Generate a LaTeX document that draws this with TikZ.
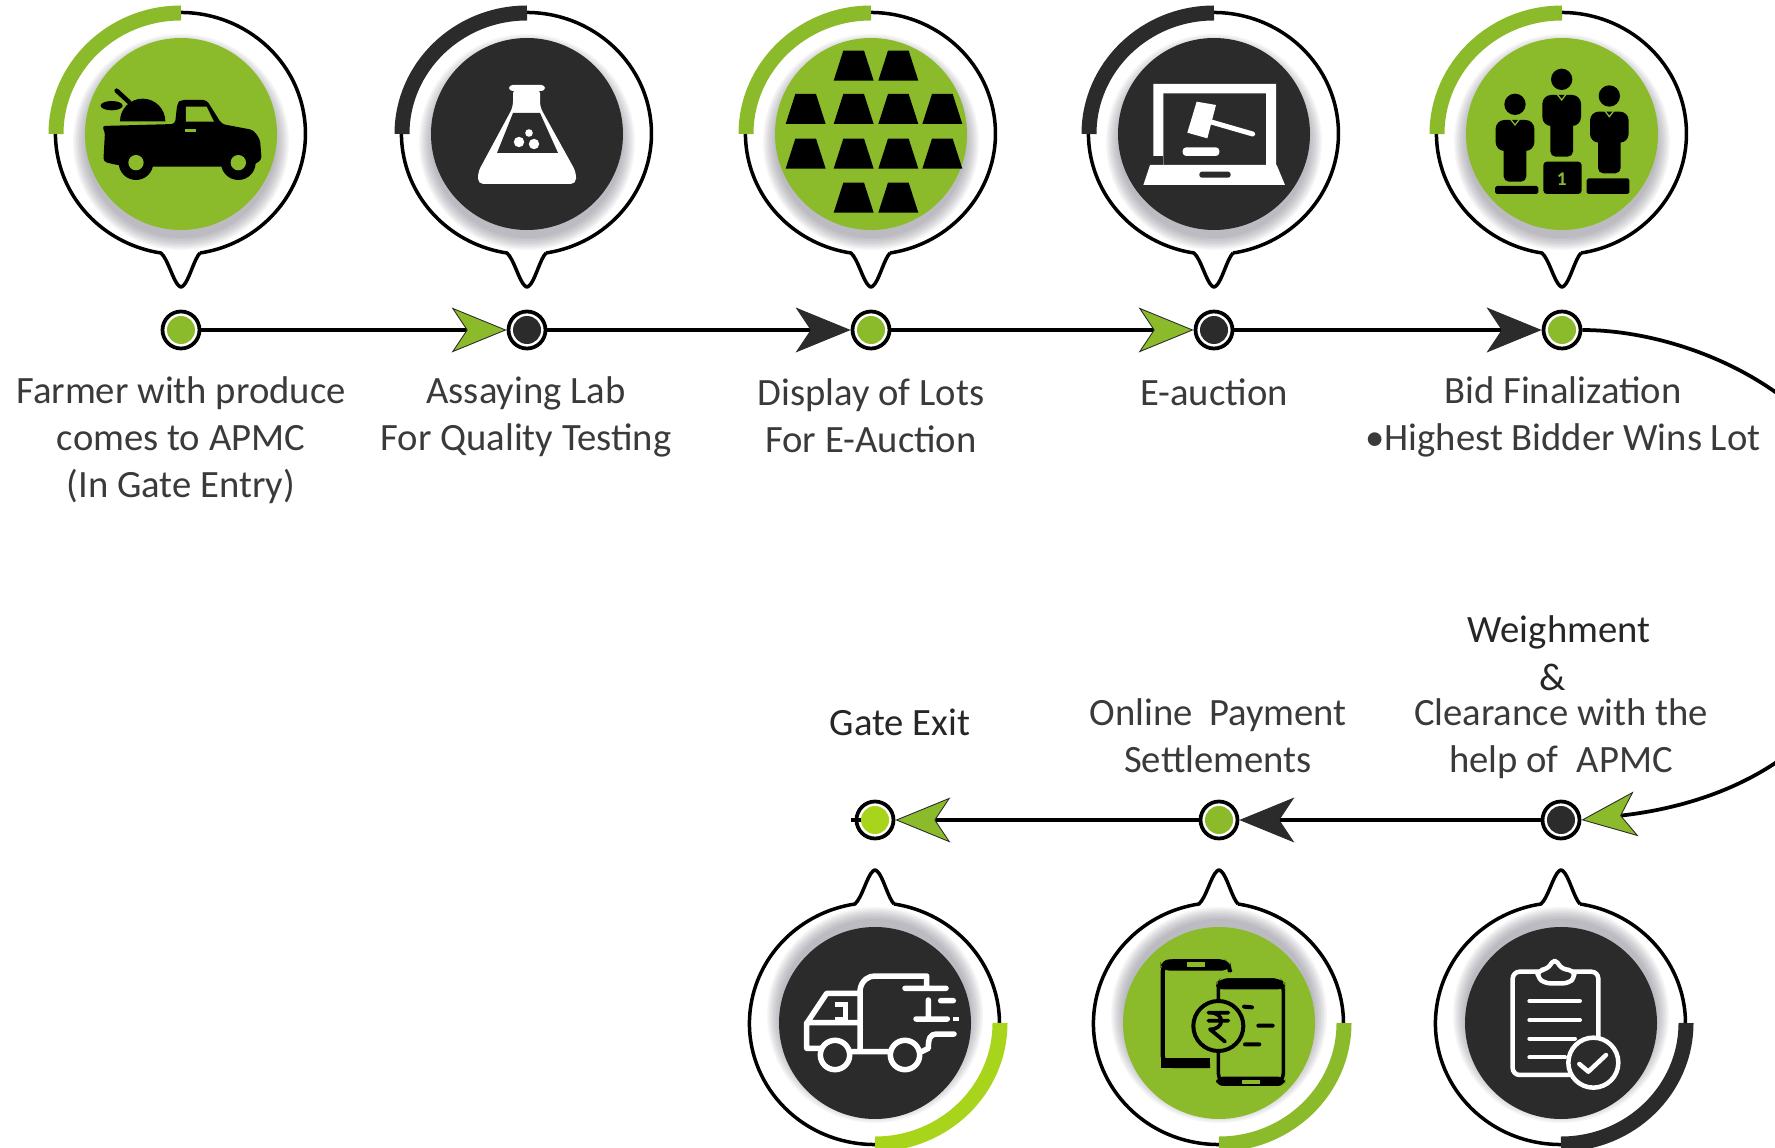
\documentclass[tikz,border=0pt]{standalone}
\usepackage{fontspec}
\setmainfont{Carlito}
\usetikzlibrary{arrows.meta}
\definecolor{agreen}{HTML}{8BBB2A}
\definecolor{alime}{HTML}{A9D41C}
\definecolor{adark}{HTML}{2B2B2B}
\definecolor{ahalo}{HTML}{5E5E6C}
\definecolor{atext}{HTML}{3A3A3A}
\tikzset{
  ring/.style={draw=black,line width=.07cm,line join=round},
  band/.style={line width=.3cm,line cap=butt},
  stopnode/.style={circle,draw=black,fill=white,line width=.075cm,minimum size=.74cm,inner sep=0pt},
  stopcore/.style={circle,minimum size=.56cm,inner sep=0pt},
  conn/.style={draw=black,line width=.075cm},
  lbl/.style={font=\fontsize{22}{26.6}\selectfont,text=atext,align=center,inner sep=0pt},
  lbldark/.style={lbl,text=black!85},
  icn/.style={x=.0066667cm,y=-.0066667cm},
  gtip/.style={-{Stealth[length=1.1cm,width=.9cm,inset=.3cm,fill=agreen,color=adark,line width=.5pt]}},
  dtip/.style={-{Stealth[length=1.1cm,width=.9cm,inset=.3cm,fill=adark,color=adark,line width=.5pt]}}
}
% centre x, centre y, yscale, inner colour, band colour, band start, band end
\newcommand{\pinshape}[7]{%
  \begin{scope}[shift={(#1,#2)},yscale=#3]
    \foreach \rr in {108,106.5,...,96}{\fill[ahalo,fill opacity=.06] (0,8) circle[radius=\rr];}
    \fill[#4] (0,0) circle[radius=96];
    \draw[ring] (19,119) arc[start angle=81,end angle=-261,x radius=125,y radius=121]
      .. controls (-13,125) and (-8,147) .. (-2,152) .. controls (-1,153.5) and (1,153.5) .. (2,152)
      .. controls (8,147) and (13,125) .. (19,119);
    \draw[band,#5] ({125*cos(#6)},{121*sin(#6)}) arc[start angle=#6,end angle=#7,x radius=125,y radius=121];
  \end{scope}}
\begin{document}
\begin{tikzpicture}[x=.02cm,y=-.02cm]
\path[use as bounding box,clip] (0,0) rectangle (1775,1148);

% pins
\pinshape{181}{134}{1}{agreen}{agreen}{-90}{-180}
\pinshape{527}{134}{1}{adark}{adark}{-90}{-180}
\pinshape{871}{134}{1}{agreen}{agreen}{-90}{-180}
\pinshape{1214}{134}{1}{adark}{adark}{-90}{-180}
\pinshape{1562}{134}{1}{agreen}{agreen}{-90}{-180}
\pinshape{1561}{1023}{-1}{adark}{adark}{0}{-90}
\pinshape{1219}{1023}{-1}{agreen}{agreen}{0}{-90}
\pinshape{875}{1023}{-1}{adark}{alime}{0}{-90}

% icon 1: pickup truck
\begin{scope}[shift={(60,50)},icn]
  \fill[black] (180,214) arc[start angle=180,end angle=360,x radius=68,y radius=68] -- cycle;
  \fill[black] (155,167) ellipse[x radius=33,y radius=14];
  \draw[black,line width=.09cm,line cap=round] (170,122) -- (208,157);
  \fill[black,rounded corners=2pt] (125,228) -- (345,222) -- (352,160) -- (362,150) -- (440,150) -- (485,222) -- (580,240) -- (600,268) -- (605,330) -- (575,348) -- (480,350) -- (280,350) -- (170,345) -- (130,335) -- (135,245) -- cycle;
  \fill[agreen] (378,170) -- (440,170) -- (462,215) -- (378,215) -- cycle;
  \fill[agreen] (375,238) rectangle (408,245);
  \fill[black] (228,338) circle[radius=52] (535,338) circle[radius=52];
  \fill[agreen] (228,338) circle[radius=23] (535,338) circle[radius=23];
\end{scope}

% icon 2: flask
\fill[white,rounded corners=2pt] (509,85) rectangle (545,91);
\fill[white,rounded corners=3pt] (513,88) -- (540,88) -- (540,107) -- (576,172) -- (576,184) -- (478,184) -- (478,172) -- (513,107) -- cycle;
\fill[adark] (513,113) -- (540,113) -- (558,153) -- (497,153) -- cycle;
\fill[white] (529,133) circle[radius=3.8] (519,142) circle[radius=5.2] (534,144) circle[radius=5.2];

% icon 3: ingots
\begin{scope}[shift={(760,30)},icn]
  \foreach \cx/\ty in {281/62,415/62,137/192,281/192,415/192,547/192,137/326,281/326,415/326,547/326,281/458,415/458}
    \fill[black] (\cx-31,\ty) -- (\cx+31,\ty) -- (\cx+60,\ty+90) -- (\cx-60,\ty+90) -- cycle;
\end{scope}

% icon 4: laptop and gavel
\begin{scope}[shift={(1100,60)},icn]
  \fill[white,even odd rule] (160,72) rectangle (528,320) (190,100) rectangle (498,320);
  \fill[adark] (160,288) rectangle (190,316);
  \fill[white] (150,315) -- (530,315) -- (555,375) -- (130,375) -- cycle;
  \fill[adark,rounded corners=1.5pt] (298,335) rectangle (392,353);
  \fill[white] (290,125) -- (348,135) -- (322,235) -- (262,218) -- cycle;
  \draw[white,line width=.1cm,line cap=round] (330,185) -- (458,222);
  \fill[white,rounded corners=2pt] (248,262) rectangle (358,288);
\end{scope}

% icon 5: podium
\begin{scope}[shift={(1420,50)},icn]
  \foreach \hx/\hy in {285/163,425/88,568/138}{
    \fill[black] (\hx,\hy) circle[radius=32];
    \fill[black,rounded corners=5pt] (\hx-58,\hy+47) rectangle (\hx+58,\hy+140);
    \fill[black,rounded corners=3pt] (\hx-34,\hy+120) rectangle (\hx+34,\hy+232);
    \draw[agreen,line width=.025cm] (\hx-14,\hy+44) -- (\hx,\hy+62) -- (\hx+14,\hy+44);
  }
  \fill[black,rounded corners=1pt] (225,408) rectangle (355,432);
  \fill[black,rounded corners=2pt] (370,335) rectangle (485,432);
  \fill[black,rounded corners=1pt] (500,385) rectangle (628,432);
  \node[text=agreen,font=\fontsize{11}{12}\selectfont\bfseries,inner sep=0pt] (podiumone) at (425,387) {1};
\end{scope}

% icon 6: clipboard
\begin{scope}[shift={(1480,940)},icn]
  \draw[white,line width=.09cm,rounded corners=4pt,line cap=round] (175,95) -- (98,95) -- (98,405) -- (270,405);
  \draw[white,line width=.09cm,rounded corners=4pt,line cap=round] (270,95) -- (355,95) -- (355,300);
  \draw[white,fill=adark,line width=.09cm,line join=round,rounded corners=3pt] (175,90) -- (172,112) -- (195,130) -- (265,130) -- (285,112) -- (280,90) -- (246,88) -- (224,55) -- (202,88) -- cycle;
  \foreach \ly/\lx in {183/300,240/300,296/285,352/255}
    \draw[white,line width=.08cm,line cap=round] (148,\ly) -- (\lx,\ly);
  \draw[white,fill=adark,line width=.09cm] (340,368) circle[radius=75];
  \draw[white,line width=.09cm,line cap=round,line join=round] (298,372) -- (325,395) -- (378,345);
\end{scope}

% icon 7: phones and rupee
\begin{scope}[shift={(1130,930)},icn]
  \draw[black,line width=.085cm,rounded corners=6pt] (300,120) -- (300,94) -- (98,94) -- (98,408) -- (240,408);
  \fill[black,rounded corners=5pt] (92,88) -- (285,88) -- (302,105) -- (302,122) -- (92,122) -- cycle;
  \fill[black] (92,385) rectangle (240,415);
  \fill[agreen] (170,97) rectangle (225,112);
  \draw[black,line width=.07cm,rounded corners=6pt] (265,240) -- (265,150) -- (460,150) -- (460,462) -- (265,462) -- (265,350);
  \fill[black,rounded corners=4pt] (258,178) -- (258,160) -- (272,145) -- (450,145) -- (465,160) -- (465,178) -- cycle;
  \fill[black,rounded corners=4pt] (258,440) rectangle (465,468);
  \fill[agreen] (335,450) rectangle (390,462);
  \draw[black,fill=agreen,line width=.08cm] (265,288) circle[radius=75];
  \draw[black,line width=.075cm,line cap=round,line join=round] (235,248) -- (295,248) (235,272) -- (295,272)
     (240,248) .. controls (285,248) and (285,298) .. (240,298) -- (285,335);
  \draw[black,line width=.08cm,line cap=round] (342,230) -- (366,232) (385,287) -- (428,287) (345,343) -- (388,343);
\end{scope}

% icon 8: delivery truck
\begin{scope}[shift={(790,960)},icn]
  \draw[white,line width=.11cm,line join=round,line cap=round]
    (90,265) -- (50,265) -- (50,190) -- (110,100) -- (210,100)
    (50,188) -- (210,188)
    (210,270) -- (210,90) .. controls (215,60) and (235,48) .. (255,48) -- (410,48) -- (410,85)
    (345,85) -- (468,85)
    (452,122) -- (490,122)
    (415,120) -- (415,177)
    (378,177) -- (472,177)
    (492,222) -- (440,222) .. controls (420,222) and (415,235) .. (415,265) -- (395,275)
    (180,275) -- (300,275);
  \fill[white] (488,170) rectangle (508,184);
  \fill[white] (135,125) rectangle (175,190);
  \fill[adark] (132,140) rectangle (160,170);
  \draw[white,fill=adark,line width=.11cm] (135,285) circle[radius=44] (345,285) circle[radius=44];
\end{scope}

% stops on the two lines
\foreach \nm/\xx/\yy/\cc in {n1/181/330/agreen,n2/527/330/adark,n3/871/330/agreen,n4/1214/330/adark,n5/1562/330/agreen,n6/1561/820/adark,n7/1219/820/agreen,n8/875/820/alime}{
  \node[stopnode] (\nm) at (\xx,\yy) {};
  \node[stopcore,fill=\cc] (\nm-core) at (\xx,\yy) {};
}
\coordinate (exitstub) at (851,820);

% connectors
\draw[conn,gtip] (n1.east) -- (n2.west);
\draw[conn,dtip] (n2.east) -- (n3.west);
\draw[conn,gtip] (n3.east) -- (n4.west);
\draw[conn,dtip] (n4.east) -- (n5.west);
\draw[conn,gtip] (n5.east) .. controls (1700,330) and (1876,410) .. (1876,575) .. controls (1876,720) and (1760,800) .. (n6.east);
\draw[conn,dtip] (n6.west) -- (n7.east);
\draw[conn,gtip] (n7.west) -- (n8.east);
\draw[conn] (n8-core.west) -- (exitstub);

% labels
\node[lbl] (la) at (181,440) {Farmer with produce\\comes to APMC\\(In Gate Entry)};
\node[lbl] (lb) at (526,417) {Assaying Lab\\For Quality Testing};
\node[lbl] (lc) at (871,416) {Display of Lots\\For E-Auction};
\node[lbl] (ld) at (1214,392) {E-auction};
\node[lbl] (le) at (1563,417) {Bid Finalization\\•Highest Bidder Wins Lot};
\node[lbldark] (lf1) at (1559,632) {Weighment};
\node[lbldark] (lf2) at (1553,677) {\&};
\node[lbl] (lf3) at (1561,739) {Clearance with the\\help of\hspace{.25em} APMC};
\node[lbl] (lg) at (1218,736) {Online\hspace{.2em} Payment\\Settlements};
\node[lbldark] (lh) at (900,722) {Gate Exit};
\end{tikzpicture}
\end{document}
